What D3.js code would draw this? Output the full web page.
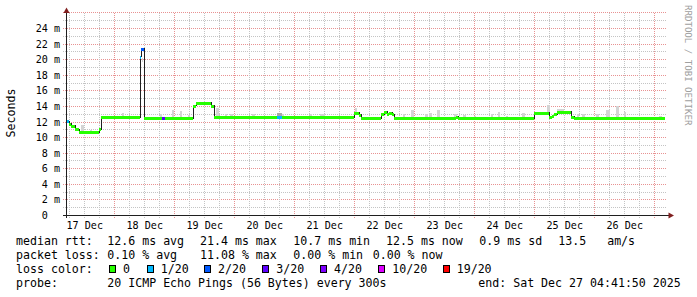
<!DOCTYPE html>
<html><head><meta charset="utf-8">
<script src="https://cdn.jsdelivr.net/npm/d3@7"></script>
<style>
html,body{margin:0;padding:0;background:#fff;}
svg{display:block;}
text{font-family:"DejaVu Sans Mono",monospace;white-space:pre;}
</style>
</head><body>
<svg id="c" width="697" height="297"></svg>
<script>
// ---------------- data ----------------
const startTime = new Date(2025, 11, 17, 4, 41, 50);
const endTime = new Date(2025, 11, 27, 4, 41, 50);
const dataEndHour = 239.2;

// median RTT (ms), step changes, hours since start
const medianHours = [0, 0.9, 1.9, 3.2, 5.0, 12.9, 13.7, 29.2, 29.9, 30.9, 50.5, 51.8, 57.6, 59.0,
  115.1, 117.1, 117.8, 125.6, 126.9, 128.0, 128.9, 130.0, 131.1, 155.6, 156.4,
  186.8, 193.1, 194.1, 195.1, 196.0, 201.7, 203.1];
const medianMs = [12.1, 11.8, 11.5, 11.1, 10.7, 11.1, 12.6, 20.4, 21.4, 12.5, 14.1, 14.5, 14.1, 12.6,
  13.2, 12.9, 12.5, 13.0, 13.3, 13.0, 13.2, 13.0, 12.5, 12.7, 12.5,
  13.2, 12.6, 12.8, 13.0, 13.3, 12.7, 12.5];

// packet loss periods (pings lost out of 20)
const lossStart = [0, 29.2, 29.9, 38.0, 84.2];
const lossEnd = [0.9, 29.9, 30.9, 39.2, 86.0];
const lossCount = [1, 1, 2, 3, 1];

// smoke (spread of individual pings), ms
const smokeStart = [5.9, 9.2, 22.0, 29.2, 30.3, 37.2, 42.0, 45.2, 48.4, 59.9, 63.2, 65.2, 74.0, 84.2, 86.0,
  97.2, 101.2, 115.2, 134.8, 138.0, 143.2, 144.8, 148.0, 148.0, 154.8, 158.4, 162.8, 169.6, 172.4, 175.6,
  182.0, 192.0, 196.0, 204.0, 206.0, 211.6, 215.6, 220.0, 222.8, 236.8];
const smokeEnd = [6.9, 10.0, 22.8, 29.6, 30.8, 38.0, 42.8, 46.0, 49.2, 61.2, 64.0, 66.4, 75.2, 86.0, 86.8,
  98.0, 103.2, 116.0, 135.6, 139.2, 144.4, 146.0, 149.2, 151.6, 156.0, 159.6, 163.6, 170.4, 173.2, 176.4,
  183.2, 193.2, 198.8, 204.8, 207.2, 212.8, 217.2, 221.2, 223.6, 238.0];
const smokeLow = [10.8, 10.7, 12.6, 15.7, 19.7, 12.5, 12.5, 12.5, 12.5, 12.6, 12.5, 12.5, 12.5, 12.6, 12.5,
  12.5, 12.5, 13.2, 12.5, 12.5, 12.5, 12.5, 12.5, 12.2, 12.5, 12.5, 12.5, 12.5, 12.5, 12.5,
  12.5, 13.2, 13.3, 12.5, 12.5, 12.5, 12.5, 12.5, 12.5, 12.5];
const smokeHigh = [11.6, 11.0, 13.1, 18.6, 20.2, 13.0, 13.5, 13.4, 12.9, 13.8, 13.0, 13.0, 13.0, 13.1, 13.0,
  13.0, 13.0, 13.8, 13.0, 13.5, 13.0, 13.2, 13.5, 12.5, 13.0, 12.9, 12.8, 13.0, 13.3, 12.8,
  13.1, 14.2, 13.7, 13.0, 13.0, 13.0, 13.6, 14.1, 13.3, 12.8];
const smokeDark = [0, 0, 0, 0, 0, 0, 0, 0, 0, 0, 0, 0, 0, 1, 0, 0, 0, 0, 0, 0, 0, 0, 0, 0, 0, 0, 0, 0, 0, 0,
  0, 0, 0, 0, 0, 0, 0, 0, 0, 0];

const yTickValues = [0, 2, 4, 6, 8, 10, 12, 14, 16, 18, 20, 22, 24];
const yTickLabels = ["0  ", "2 m", "4 m", "6 m", "8 m", "10 m", "12 m", "14 m", "16 m", "18 m", "20 m", "22 m", "24 m"];
const dayLabels = ["17 Dec", "18 Dec", "19 Dec", "20 Dec", "21 Dec", "22 Dec", "23 Dec", "24 Dec", "25 Dec", "26 Dec"];

const lossThresholds = [0, 1, 2, 3, 4, 10, 19];
const lossColors = ["#26ff00", "#00b8ff", "#0059ff", "#5e00ff", "#7e00ff", "#dd00ff", "#ff0000"];
const lossLabels = ["0", "1/20", "2/20", "3/20", "4/20", "10/20", "19/20"];

const rttStats = [12.6, 21.4, 10.7, 12.5, 0.9, 13.5];
const lossStats = [0.10, 11.08, 0.00, 0.00];
const probeText = "20 ICMP Echo Pings (56 Bytes) every 300s";
const endText = "end: Sat Dec 27 04:41:50 2025";
const yAxisTitle = "Seconds";
const watermark = "RRDTOOL / TOBI OETIKER";

// ---------------- drawing ----------------
const svg = d3.select("#c");
const hourToDate = h => new Date(startTime.getTime() + h * 3600e3);
const x = d3.scaleTime().domain([startTime, endTime]).range([66.5, 666.5]);
const y = d3.scaleLinear().domain([0, 24]).range([215.5, 28.5]);
const px = v => Math.floor(v) + 0.5;
const yTop = y(26);

const GRID = "rgb(196,196,196)", MGRID = "rgb(232,146,146)";

// horizontal grid
svg.append("g").selectAll("line").data(d3.range(1, 27)).join("line")
  .attr("x1", 63).attr("x2", 667)
  .attr("y1", d => px(y(d))).attr("y2", d => px(y(d)))
  .attr("stroke", d => d % 2 === 0 ? MGRID : GRID)
  .attr("stroke-dasharray", "1,1").attr("shape-rendering", "crispEdges");

// vertical grid
const vt = d3.timeHour.every(6).range(startTime, endTime);
svg.append("g").selectAll("line").data(vt).join("line")
  .attr("x1", d => px(x(d))).attr("x2", d => px(x(d)))
  .attr("y1", 218).attr("y2", px(yTop))
  .attr("stroke", d => d.getHours() === 0 ? MGRID : GRID)
  .attr("stroke-dasharray", "1,1").attr("shape-rendering", "crispEdges");

// smoke
svg.append("g").selectAll("rect").data(smokeStart.map((s, i) => i)).join("rect")
  .attr("x", i => Math.round(x(hourToDate(smokeStart[i]))))
  .attr("width", i => Math.max(1, Math.round(x(hourToDate(smokeEnd[i])) - x(hourToDate(smokeStart[i])))))
  .attr("y", i => Math.round(y(smokeHigh[i])))
  .attr("height", i => Math.max(1, Math.round(y(smokeLow[i]) - y(smokeHigh[i]))))
  .attr("fill", i => smokeDark[i] ? "#a8a8a8" : "#d4d4d4")
  .attr("shape-rendering", "crispEdges");

// median line (step)
const medPts = medianHours.map((h, i) => [h, medianMs[i]]);
medPts.push([dataEndHour, medianMs[medianMs.length - 1]]);
const line = d3.line().x(d => Math.round(x(hourToDate(d[0])))).y(d => px(y(d[1]))).curve(d3.curveStepAfter);
svg.append("path").attr("d", line(medPts)).attr("fill", "none").attr("stroke", "#202020")
  .attr("stroke-width", 1).attr("shape-rendering", "crispEdges");

// loss-coloured band around the median
const segs = medianHours.map((h, i) => ({h0: h, h1: i + 1 < medianHours.length ? medianHours[i + 1] : dataEndHour, v: medianMs[i]}));
const band = svg.append("g");
band.selectAll("rect.z").data(segs).join("rect")
  .attr("x", d => Math.round(x(hourToDate(d.h0))))
  .attr("width", d => Math.round(x(hourToDate(d.h1))) - Math.round(x(hourToDate(d.h0))))
  .attr("y", d => Math.round(y(d.v)) - 1)
  .attr("height", 3)
  .attr("fill", lossColors[0]).attr("shape-rendering", "crispEdges");
const bis = d3.bisector(d => d).right;
const medianAt = h => medianMs[Math.max(0, bis(medianHours, h + 1e-6) - 1)];
const colorFor = c => { let k = 0; lossThresholds.forEach((t, i) => { if (c >= t) k = i; }); return lossColors[k]; };
band.selectAll("rect.l").data(lossStart.map((s, i) => i)).join("rect")
  .attr("x", i => Math.round(x(hourToDate(lossStart[i]))))
  .attr("width", i => Math.max(1, Math.round(x(hourToDate(lossEnd[i]))) - Math.round(x(hourToDate(lossStart[i])))))
  .attr("y", i => Math.round(y(medianAt(lossStart[i]))) - 1)
  .attr("height", 3)
  .attr("fill", i => colorFor(lossCount[i])).attr("shape-rendering", "crispEdges");

// axes
const AX = "#1f1f1f", ARROW = "rgb(128,31,31)";
svg.append("line").attr("x1", 63).attr("x2", 669).attr("y1", px(y(0))).attr("y2", px(y(0)))
  .attr("stroke", AX).attr("shape-rendering", "crispEdges");
svg.append("line").attr("x1", 66.5).attr("x2", 66.5).attr("y1", 218).attr("y2", 12)
  .attr("stroke", AX).attr("shape-rendering", "crispEdges");
svg.append("path").attr("d", "M66.5,7.5 L69.5,13 L63.5,13 Z").attr("fill", ARROW);
svg.append("path").attr("d", "M674,215.5 L668.5,212.5 L668.5,218.5 Z").attr("fill", ARROW);

// y tick labels
svg.append("g").selectAll("text").data(yTickValues).join("text")
  .attr("x", 60).attr("y", d => px(y(d)) + 3.5)
  .attr("text-anchor", "end").attr("font-size", "10.1px").attr("fill", "#000")
  .text((d, i) => yTickLabels[i]);

// x day labels at noon
svg.append("g").selectAll("text").data(dayLabels).join("text")
  .attr("x", (d, i) => x(new Date(2025, 11, 17 + i, 12, 0, 0)))
  .attr("y", 228.5).attr("text-anchor", "middle").attr("font-size", "10.1px").attr("fill", "#000")
  .text(d => d);

// y axis title
svg.append("text").attr("transform", "translate(14.5,113) rotate(-90)")
  .attr("text-anchor", "middle").attr("font-size", "11.6px").attr("fill", "#000").text(yAxisTitle);

// watermark
svg.append("text").attr("transform", "translate(684.5,5) rotate(90)")
  .attr("font-size", "9.1px").attr("fill", "rgb(160,160,160)").text(watermark);

// legend
const FS = "11.6px";
const leg = svg.append("g").attr("font-size", FS).attr("fill", "#000");
const put = (items, xs, yy) => items.forEach((t, i) => leg.append("text").attr("x", xs[i]).attr("y", yy).text(t));
put(["median rtt:",
  rttStats[0].toFixed(1) + " ms avg", rttStats[1].toFixed(1) + " ms max", rttStats[2].toFixed(1) + " ms min",
  rttStats[3].toFixed(1) + " ms now", rttStats[4].toFixed(1) + " ms sd", rttStats[5].toFixed(1) + "   am/s"],
  [16, 107.3, 200, 293.3, 386, 479.3, 558.3], 245);
put(["packet loss:",
  lossStats[0].toFixed(2) + " % avg", lossStats[1].toFixed(2) + " % max",
  lossStats[2].toFixed(2) + " % min", lossStats[3].toFixed(2) + " % now"],
  [16, 107.3, 200, 293.3, 372.7], 259);
put(["loss color:"], [16], 273);
const swX = [109, 146.7, 204, 262.3, 320, 378.3, 442.7];
lossLabels.forEach((l, i) => {
  leg.append("rect").attr("x", swX[i] + 0.5).attr("y", 265.5).attr("width", 6).attr("height", 7)
    .attr("fill", lossColors[i]).attr("stroke", "#000").attr("stroke-width", 1).attr("shape-rendering", "crispEdges");
  leg.append("text").attr("x", swX[i] + 14).attr("y", 273).text(l);
});
put(["probe:", probeText, endText], [16, 107.3, 478.3], 287);
</script>
</body></html>
